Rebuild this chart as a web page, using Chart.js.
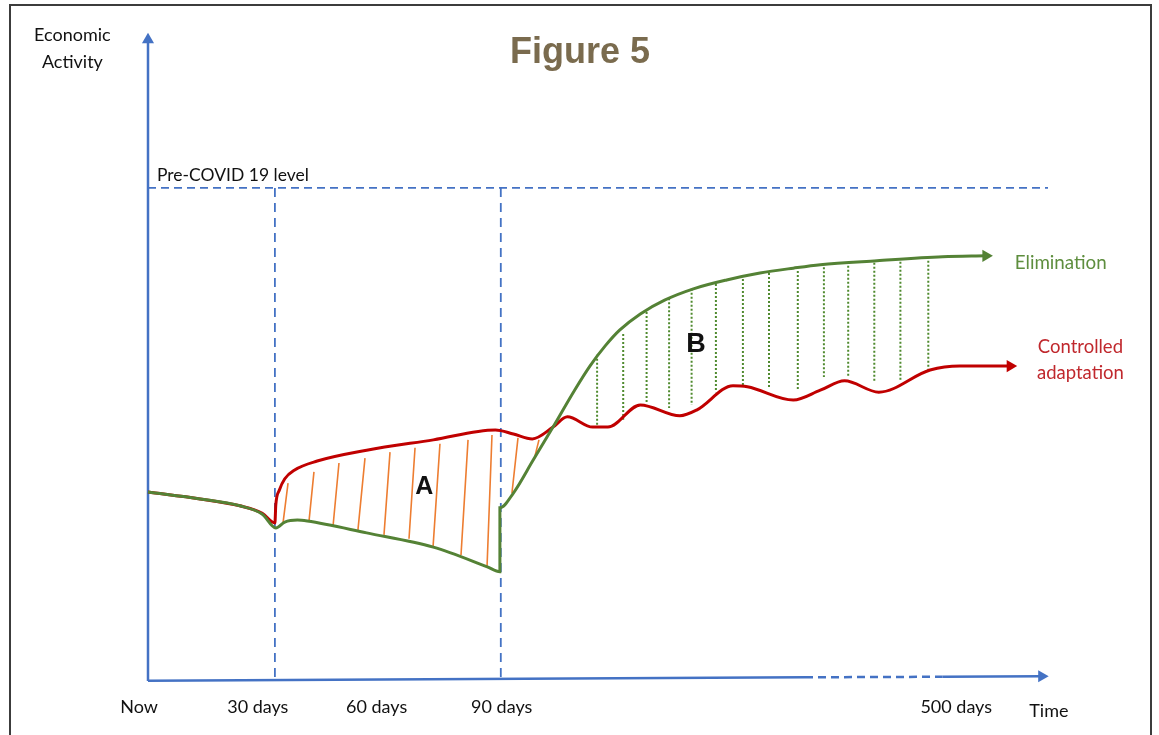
<!DOCTYPE html>
<html>
<head>
<meta charset="utf-8">
<script src="https://cdn.jsdelivr.net/npm/chart.js@4/dist/chart.umd.min.js"></script>
<style>
  html, body { margin: 0; padding: 0; background: #fff; }
  #frame { position: absolute; left: 9px; top: 4px; width: 1139px; height: 740px; border: 2px solid #3c3c3c; border-bottom: none; }
  #fig { position: absolute; left: 0; top: 0; }
</style>
</head>
<body>
<div id="frame"></div>
<canvas id="fig" width="1159" height="735"></canvas>
<script>
// x = position along the time axis (0-100), y = economic activity (pre-COVID level = 100)
const elimX = [0, 5.8, 10.2, 12.7, 14.2, 15.2, 16.6, 17.7, 24.3, 31.7, 37.7, 39.1, 39.1, 40.6, 42.8, 45.0, 47.4, 49.1, 50.8, 52.4, 54.7, 57.4, 60.6, 64.3, 68.0, 71.7, 74.7, 81.0, 88.3, 93.1];
const elimY = [38.2, 36.8, 35.4, 33.7, 30.9, 32.1, 32.5, 32.3, 29.9, 27.0, 23.0, 22.0, 35.0, 38.0, 44.7, 51.4, 58.9, 63.8, 67.9, 71.1, 74.4, 77.2, 79.5, 81.3, 82.7, 83.7, 84.4, 85.2, 86.0, 86.2];

const adaptX = [0, 5.8, 10.2, 12.7, 14.1, 14.2, 14.6, 15.2, 16.3, 18.8, 24.3, 31.7, 38.6, 40.6, 42.7, 45.0, 46.6, 49.4, 51.1, 54.7, 59.1, 61.0, 65.0, 66.6, 71.7, 74.7, 77.4, 81.2, 86.9, 90.2, 95.8];
const adaptY = [38.2, 36.8, 35.4, 33.9, 31.9, 35.6, 38.6, 40.9, 42.7, 44.5, 46.7, 48.8, 50.8, 50.0, 49.0, 51.4, 53.5, 51.4, 51.4, 55.9, 53.7, 54.9, 59.8, 59.6, 56.9, 58.9, 60.8, 58.5, 63.0, 63.8, 63.8];

// area A hatching (top on red, bottom on green)
const hatchAxTop = [15.56, 18.44, 21.22, 24.11, 26.89, 29.67, 32.44, 35.56, 38.22, 41.11, 43.44];
const hatchAyTop = [40.0, 42.3, 44.1, 45.1, 46.3, 47.2, 48.0, 48.8, 49.8, 49.2, 48.8];
const hatchAxBot = [15.0, 17.89, 20.56, 23.33, 26.22, 29.0, 31.67, 34.78, 37.67, 40.44, 42.89];
const hatchAyBot = [31.9, 32.3, 31.3, 30.5, 29.5, 28.7, 27.0, 25.4, 23.0, 38.0, 44.7];

// area B hatching (vertical dotted)
const hatchBx = [49.9, 52.8, 55.4, 57.9, 60.4, 63.1, 66.1, 69.0, 72.2, 75.1, 77.8, 80.7, 83.6, 86.7];
const hatchByTop = [66.1, 70.3, 74.8, 77.6, 79.5, 80.5, 81.5, 82.7, 83.1, 83.9, 84.2, 84.8, 85.0, 85.2];
const hatchByBot = [51.8, 52.9, 56.3, 55.3, 55.9, 58.5, 59.6, 59.4, 58.9, 61.6, 61.6, 60.6, 60.6, 63.0];

const preCovidLevel = 100;
const markerX = [14.1, 39.2];

const xTickLabels = ['Now', '30 days', '60 days', '90 days', '500 days'];
const xTickPos = [-1.0, 12.2, 25.4, 39.3, 89.8];

const BLUE = '#4472c4';
const RED = '#c00000';
const GREEN = '#548235';
const ORANGE = '#ed7d31';

function pts(xs, ys) {
    return xs.map((v, i) => ({ x: v, y: ys[i] }));
}

function segs(x1, y1, x2, y2) {
    let out = [];
    for (let i = 0; i < x1.length; i++) {
        out.push({ x: x1[i], y: y1[i] }, { x: x2[i], y: y2[i] }, { x: x2[i], y: null });
    }
    return out;
}

let lastOnly = r => c => c.dataIndex === c.dataset.data.length - 1 ? r : 0;

const notes = [
    { text: 'Figure 5', x: 48.0, y: 127.4, font: 'bold 36px "Liberation Sans"', color: '#7a6b4e' },
    { text: 'Economic', x: -8.4, y: 131.1, font: '18px Lato', color: '#111' },
    { text: 'Activity', x: -8.4, y: 125.6, font: '18px Lato', color: '#111' },
    { text: 'Pre-COVID 19 level', x: 1.0, y: 102.6, font: '17.5px Lato', color: '#111', align: 'left' },
    { text: 'A', x: 30.7, y: 39.2, font: 'bold 25px "Liberation Sans"', color: '#111' },
    { text: 'B', x: 60.9, y: 68.1, font: 'bold 27px "Liberation Sans"', color: '#111' },
    { text: 'Elimination', x: 96.3, y: 84.8, font: '18.8px Lato', color: '#5e8e3e', align: 'left' },
    { text: 'Controlled', x: 103.6, y: 67.7, font: '18.5px Lato', color: '#c0282d' },
    { text: 'adaptation', x: 103.6, y: 62.4, font: '18.5px Lato', color: '#c0282d' },
    { text: 'Time', x: 100.1, y: -6.3, font: '18px Lato', color: '#111' }
];

const notesPlugin = {
    id: 'notes',
    afterDraw(chart) {
        const ctx = chart.ctx;
        const xs = chart.scales.x, ys = chart.scales.y;
        ctx.save();
        ctx.textBaseline = 'middle';
        notes.forEach(n => {
            ctx.font = n.font;
            ctx.fillStyle = n.color;
            ctx.textAlign = n.align || 'center';
            ctx.fillText(n.text, xs.getPixelForValue(n.x), ys.getPixelForValue(n.y));
        });
        ctx.font = '18px Lato';
        ctx.fillStyle = '#111';
        ctx.textAlign = 'center';
        xTickLabels.forEach((t, i) => {
            ctx.fillText(t, xs.getPixelForValue(xTickPos[i]), ys.getPixelForValue(-5.5));
        });
        ctx.restore();
    }
};

new Chart(document.getElementById('fig').getContext('2d'), {
    type: 'line',
    data: {
        datasets: [{
            label: 'Elimination',
            data: pts(elimX, elimY),
            borderColor: GREEN,
            backgroundColor: GREEN,
            borderWidth: 3,
            cubicInterpolationMode: 'monotone',
            pointStyle: 'triangle',
            pointRotation: 90,
            pointRadius: lastOnly(7),
            pointBorderWidth: 0,
            order: 0
        }, {
            label: 'Controlled adaptation',
            data: pts(adaptX, adaptY),
            borderColor: RED,
            backgroundColor: RED,
            borderWidth: 3,
            cubicInterpolationMode: 'monotone',
            pointStyle: 'triangle',
            pointRotation: 90,
            pointRadius: lastOnly(7),
            pointBorderWidth: 0,
            order: 1
        }, {
            label: 'A',
            data: segs(hatchAxTop, hatchAyTop, hatchAxBot, hatchAyBot),
            borderColor: ORANGE,
            borderWidth: 1.6,
            pointRadius: 0,
            spanGaps: false,
            order: 3
        }, {
            label: 'B',
            data: segs(hatchBx, hatchByTop, hatchBx, hatchByBot),
            borderColor: '#4f8a2e',
            borderWidth: 2,
            borderDash: [2, 2],
            pointRadius: 0,
            spanGaps: false,
            order: 3
        }, {
            label: 'Pre-COVID 19 level',
            data: [{ x: 0, y: preCovidLevel }, { x: 100, y: preCovidLevel }],
            borderColor: BLUE,
            borderWidth: 1.8,
            borderDash: [8, 5],
            pointRadius: 0,
            order: 4
        }, {
            label: 'markers',
            data: [{ x: markerX[0], y: preCovidLevel }, { x: markerX[0], y: 0 }, { x: markerX[0], y: null },
                   { x: markerX[1], y: preCovidLevel }, { x: markerX[1], y: 0 }],
            borderColor: BLUE,
            borderWidth: 1.8,
            borderDash: [9, 6],
            pointRadius: 0,
            spanGaps: false,
            order: 4
        }, {
            label: 'y axis',
            data: [{ x: 0, y: -0.2 }, { x: 0, y: 130.1 }],
            borderColor: BLUE,
            backgroundColor: BLUE,
            borderWidth: 2.5,
            pointStyle: 'triangle',
            pointRotation: 0,
            pointRadius: lastOnly(7),
            pointBorderWidth: 0,
            order: 2
        }, {
            label: 'x axis',
            data: [{ x: 0, y: -0.15 }, { x: 73.0, y: 0.55 }, { x: 88.3, y: 0.66 }, { x: 99.3, y: 0.75 }],
            borderColor: BLUE,
            backgroundColor: BLUE,
            borderWidth: 2.5,
            segment: {
                borderDash: c => c.p0DataIndex === 1 ? [8, 5] : undefined
            },
            pointStyle: 'triangle',
            pointRotation: 90,
            pointRadius: lastOnly(7),
            pointBorderWidth: 0,
            order: 2
        }]
    },
    options: {
        responsive: false,
        animation: false,
        clip: false,
        layout: { padding: { left: 148, right: 111, top: 30, bottom: 55 } },
        scales: {
            x: { type: 'linear', min: 0, max: 100, display: false },
            y: { type: 'linear', min: 0, max: 132.1, display: false }
        },
        plugins: {
            legend: { display: false },
            tooltip: { enabled: false }
        }
    },
    plugins: [notesPlugin]
});
</script>
</body>
</html>
